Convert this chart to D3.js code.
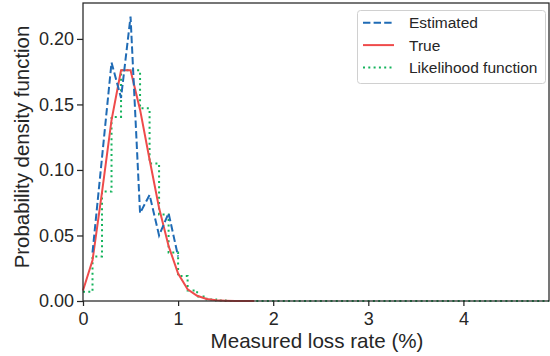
<!doctype html>
<html lang="en">
<head>
  <meta charset="utf-8">
  <title>Loss rate PDF</title>
  <script src="https://d3js.org/d3.v7.min.js"></script>
  <style>
    body { margin: 0; background: #fff; }
    svg { display: block; font-family: 'Liberation Sans', Arial, sans-serif; }
  </style>
</head>
<body>
<svg id="chart" width="550" height="356"></svg>
<script>
// loss rate grid (%) and the three curves
const estX = [0.1, 0.3, 0.4, 0.5, 0.6, 0.7, 0.8, 0.9, 1.0];
const estY = [0.037, 0.182, 0.155, 0.217, 0.067, 0.081, 0.050, 0.067, 0.034];

const trueX = [0, 0.1, 0.2, 0.3, 0.4, 0.5, 0.6, 0.7, 0.8, 0.9, 1.0, 1.1, 1.2, 1.3, 1.4, 1.5, 1.6, 1.7, 1.8];
const trueY = [0.008, 0.031, 0.083, 0.138, 0.176, 0.176, 0.146, 0.108, 0.071, 0.042, 0.021, 0.009, 0.004, 0.0015, 0.0005, 0.0002, 0, 0, 0];

const likX = [0, 0.1, 0.2, 0.3, 0.4, 0.5, 0.6, 0.7, 0.8, 0.9, 1.0, 1.1, 1.2, 1.3, 1.4, 1.5, 4.9];
const likY = [0.007, 0.034, 0.0835, 0.1405, 0.176, 0.176, 0.147, 0.105, 0.066, 0.037, 0.019, 0.008, 0.0035, 0.0012, 0.0004, 0, 0];

const xTicks = [0, 1, 2, 3, 4];
const yTicks = [0, 0.05, 0.10, 0.15, 0.20];
const legendLabels = ["Estimated", "True", "Likelihood function"];

const ink = "#262626";
const colors = ["#1f6bb5", "#ef4b4b", "#14b35c"];

const svg = d3.select("#chart");
const m = { left: 83, right: 549, top: 3, bottom: 301 };

const x = d3.scaleLinear().domain([0, 4.9]).range([m.left, m.right]);
const y = d3.scaleLinear().domain([0, 0.2274]).range([m.bottom, m.top]);

// curves
const pts = (xs, ys) => xs.map((v, i) => [v, ys[i]]);
const line = d3.line().x(d => x(d[0])).y(d => y(d[1]));

const plot = svg.append("g");
plot.append("path")
  .attr("d", line.curve(d3.curveStepAfter)(pts(likX, likY)))
  .attr("fill", "none").attr("stroke", colors[2]).attr("stroke-width", 2)
  .attr("stroke-dasharray", "2,3.3");
plot.append("path")
  .attr("d", line.curve(d3.curveLinear)(pts(trueX, trueY)))
  .attr("fill", "none").attr("stroke", colors[1]).attr("stroke-width", 2);
plot.append("path")
  .attr("d", line.curve(d3.curveLinear)(pts(estX, estY)))
  .attr("fill", "none").attr("stroke", colors[0]).attr("stroke-width", 2)
  .attr("stroke-dasharray", "7.4,3.2");

// frame
svg.append("rect")
  .attr("x", m.left).attr("y", m.top)
  .attr("width", m.right - m.left).attr("height", m.bottom - m.top)
  .attr("fill", "none").attr("stroke", ink).attr("stroke-width", 1.25);

// axes
const xAxis = svg.append("g").attr("transform", `translate(0,${m.bottom})`)
  .call(d3.axisBottom(x).tickValues(xTicks).tickFormat(d3.format("d")).tickSize(5).tickPadding(6));
const yAxis = svg.append("g").attr("transform", `translate(${m.left},0)`)
  .call(d3.axisLeft(y).tickValues(yTicks).tickFormat(d3.format(".2f")).tickSize(6).tickPadding(3));

[xAxis, yAxis].forEach(a => {
  a.select(".domain").remove();
  a.selectAll("line").attr("stroke", ink).attr("stroke-width", 1.25);
  a.selectAll("text").attr("fill", ink).style("font-size", "18px")
    .style("font-family", "'Liberation Sans', Arial, sans-serif");
});

// axis labels
svg.append("text")
  .attr("x", (m.left + m.right) / 2 + 1).attr("y", 347.5)
  .attr("text-anchor", "middle").attr("fill", ink).style("font-size", "20.6px")
  .text("Measured loss rate (%)");
svg.append("text")
  .attr("transform", "translate(28.5,147) rotate(-90)")
  .attr("text-anchor", "middle").attr("fill", ink).style("font-size", "20.4px")
  .text("Probability density function");

// legend
const lg = svg.append("g");
lg.append("rect")
  .attr("x", 357.5).attr("y", 10.5).attr("width", 188).attr("height", 73).attr("rx", 3)
  .attr("fill", "#fff").attr("fill-opacity", 0.8).attr("stroke", "#d0d0d0");
const dashes = ["7.4,3.2", null, "2,3.3"];
legendLabels.forEach((lab, i) => {
  const yy = 22.7 + i * 22.4;
  lg.append("line")
    .attr("x1", 363).attr("x2", 394).attr("y1", yy).attr("y2", yy)
    .attr("stroke", colors[i]).attr("stroke-width", 2)
    .attr("stroke-dasharray", dashes[i]);
  lg.append("text")
    .attr("x", 409).attr("y", yy).attr("dy", "0.35em")
    .attr("fill", ink).style("font-size", "15.5px")
    .text(lab);
});
</script>
</body>
</html>
